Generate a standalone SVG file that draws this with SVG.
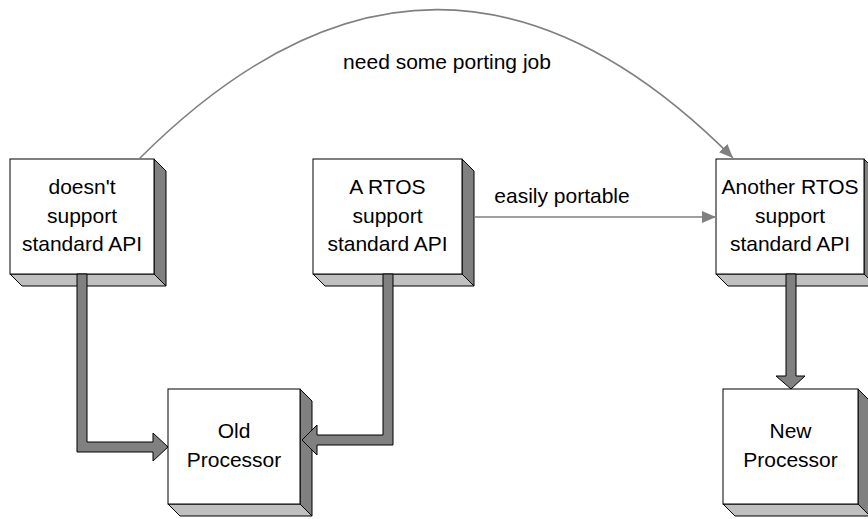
<svg xmlns="http://www.w3.org/2000/svg" width="868" height="519" viewBox="0 0 868 519">
  <defs>
    <style>
      .front { fill: #ffffff; stroke: #000000; stroke-width: 1; }
      .side { fill: #808080; stroke: #000000; stroke-width: 1; stroke-linejoin: miter; }
      .base { fill: #c0c0c0; stroke: #000000; stroke-width: 1; stroke-linejoin: miter; }
      .label { font-family: "Liberation Sans", Arial, Helvetica, sans-serif; font-size: 21px; fill: #000000; text-anchor: middle; }
      .thin { fill: none; stroke: #808080; stroke-width: 1.6; }
      .fat { fill: #808080; stroke: #000000; stroke-width: 1; stroke-linejoin: miter; }
    </style>
    <marker id="head" viewBox="0 0 14 12" refX="14" refY="6" markerWidth="14" markerHeight="12" markerUnits="userSpaceOnUse" orient="auto">
      <path d="M0,0 L14,6 L0,12 Z" fill="#808080"/>
    </marker>
  </defs>

  <!-- blocks: white front, dark right face, light bottom face -->
  <g id="no-std-api">
    <polygon class="side" points="154,159 166,171 166,286 154,274"/>
    <polygon class="base" points="10,274 154,274 166,286 22,286"/>
    <rect class="front" x="10" y="159" width="144" height="115"/>
    <text class="label" x="82" y="194">doesn't</text>
    <text class="label" x="82" y="222.5">support</text>
    <text class="label" x="82" y="251">standard API</text>
  </g>

  <g id="rtos-a">
    <polygon class="side" points="462,159 474,171 474,286 462,274"/>
    <polygon class="base" points="313,274 462,274 474,286 325,286"/>
    <rect class="front" x="313" y="159" width="149" height="115"/>
    <text class="label" x="387.5" y="194">A RTOS</text>
    <text class="label" x="387.5" y="222.5">support</text>
    <text class="label" x="387.5" y="251">standard API</text>
  </g>

  <g id="rtos-b">
    <polygon class="side" points="864,159 876,171 876,286 864,274"/>
    <polygon class="base" points="716,274 864,274 876,286 728,286"/>
    <rect class="front" x="716" y="159" width="148" height="115"/>
    <text class="label" x="790" y="194">Another RTOS</text>
    <text class="label" x="790" y="222.5">support</text>
    <text class="label" x="790" y="251">standard API</text>
  </g>

  <g id="old-cpu">
    <polygon class="side" points="300,389 312,401 312,516 300,504"/>
    <polygon class="base" points="168,504 300,504 312,516 180,516"/>
    <rect class="front" x="168" y="389" width="132" height="115"/>
    <text class="label" x="234" y="438">Old</text>
    <text class="label" x="234" y="467">Processor</text>
  </g>

  <g id="new-cpu">
    <polygon class="side" points="858,389 870,401 870,516 858,504"/>
    <polygon class="base" points="723,504 858,504 870,516 735,516"/>
    <rect class="front" x="723" y="389" width="135" height="115"/>
    <text class="label" x="790.5" y="438">New</text>
    <text class="label" x="790.5" y="467">Processor</text>
  </g>

  <!-- connectors -->
  <g id="connectors">
    <path class="thin" d="M139,159 C338,-40 536,-40 733,158" marker-end="url(#head)"/>
    <line class="thin" x1="474" y1="217" x2="716" y2="217" marker-end="url(#head)"/>
    <polygon class="fat" points="77,274 87,274 87,442 153,442 153,433 168,447 153,461 153,452 77,452"/>
    <polygon class="fat" points="383,274 393,274 393,445 317,445 317,455 302,440 317,425 317,435 383,435"/>
    <polygon class="fat" points="786,274 796,274 796,376 805,376 791,389 776,376 786,376"/>
    <text class="label" x="447" y="69">need some porting job</text>
    <text class="label" x="562" y="203">easily portable</text>
  </g>
</svg>
